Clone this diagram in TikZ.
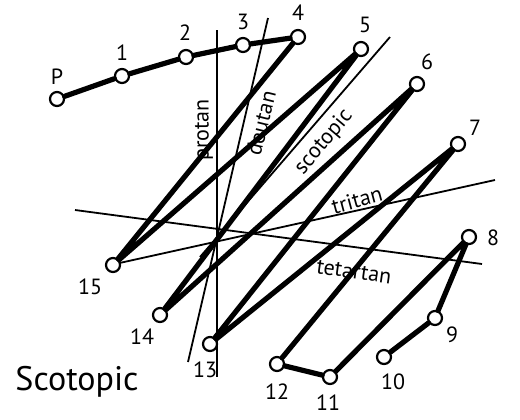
\documentclass[tikz,border=0pt]{standalone}
\usepackage{fontspec}
\setmainfont{PT Sans}
\tikzset{lbl/.style={draw=none, fill=none, minimum size=0pt,
  inner sep=1pt, font=\fontsize{11}{13}\selectfont},
  axis/.style={line width=0.9pt},
  capline/.style={line width=2.6pt, line cap=round}}

\begin{document}
\begin{tikzpicture}[x=0.5pt, y=-0.5pt, every node/.style={circle, draw,
  fill=white, line width=1.1pt, minimum size=7pt, inner sep=0pt}]
  \useasboundingbox (0, 0) rectangle (520, 419);
  % confusion axes
  \coordinate (prA) at (217, 30);   \coordinate (prB) at (217, 377);
  \coordinate (deA) at (268, 18);   \coordinate (deB) at (188, 362);
  \coordinate (scA) at (390, 37);   \coordinate (scB) at (200, 257);
  \coordinate (trA) at (495, 180);  \coordinate (trB) at (115, 264);
  \coordinate (teA) at (75, 210);   \coordinate (teB) at (482, 264);
  \draw[axis] (prA) -- (prB);
  \draw[axis] (deA) -- (deB);
  \draw[axis] (scA) -- (scB);
  \draw[axis] (trA) -- (trB);
  \draw[axis] (teA) -- (teB);
  \node[lbl, rotate=90]  at (204, 130) {protan};
  \node[lbl, rotate=76]  at (261, 123) {deutan};
  \node[lbl, rotate=50]  at (324, 142) {scotopic};
  \node[lbl, rotate=15]  at (357, 200) {tritan};
  \node[lbl, rotate=-8]  at (354, 272) {tetartan};
  % caps
  \node (p)   at (57, 99)   {};
  \node (c1)  at (122, 76)  {};
  \node (c2)  at (186, 57)  {};
  \node (c3)  at (243, 45)  {};
  \node (c4)  at (298, 37)  {};
  \node (c5)  at (361, 49)  {};
  \node (c6)  at (417, 84)  {};
  \node (c7)  at (458, 144) {};
  \node (c8)  at (469, 237) {};
  \node (c9)  at (435, 318) {};
  \node (c10) at (384, 357) {};
  \node (c11) at (330, 377) {};
  \node (c12) at (277, 364) {};
  \node (c13) at (210, 344) {};
  \node (c14) at (160, 315) {};
  \node (c15) at (113, 265) {};
  \draw[capline] (p) -- (c1) -- (c2) -- (c3) -- (c4) -- (c15) -- (c5)
    -- (c14) -- (c6) -- (c13) -- (c7) -- (c12) -- (c11) -- (c8) -- (c9)
    -- (c10);
  \node[lbl] at (57, 77)   {P};
  \node[lbl] at (122, 53)  {1};
  \node[lbl] at (185, 33)  {2};
  \node[lbl] at (243, 22)  {3};
  \node[lbl] at (298, 13)  {4};
  \node[lbl] at (365, 25)  {5};
  \node[lbl] at (427, 62)  {6};
  \node[lbl] at (475, 128) {7};
  \node[lbl] at (493, 238) {8};
  \node[lbl] at (452, 335) {9};
  \node[lbl] at (393, 382) {10};
  \node[lbl] at (328, 403) {11};
  \node[lbl] at (277, 392) {12};
  \node[lbl] at (205, 370) {13};
  \node[lbl] at (142, 337) {14};
  \node[lbl] at (90, 287)  {15};
  \node[lbl, font=\fontsize{17}{19}\selectfont] at (77, 382) {Scotopic};
\end{tikzpicture}
\end{document}
